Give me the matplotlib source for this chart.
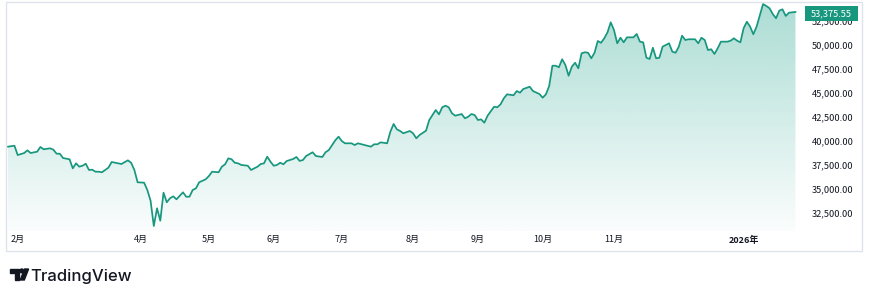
"""
Nikkei-style area chart, TradingView look: Jan 2025 - Jan 2026 daily closes.
"""

import numpy as np
import matplotlib
matplotlib.use("Agg")
import matplotlib.pyplot as plt
from matplotlib.colors import LinearSegmentedColormap
from matplotlib.patches import Polygon, Rectangle, Circle
from matplotlib.transforms import blended_transform_factory

plt.rcParams["font.family"] = ["Noto Sans CJK JP", "DejaVu Sans"]

# trading-day index (0 = first day shown) and closing values
day = [
    0, 2, 3, 5, 6, 7, 9, 10, 11, 13,
    14, 15, 16, 17, 19, 20, 21, 22, 23, 24,
    25, 26, 27, 28, 29, 31, 32, 34, 35, 37,
    38, 39, 40, 42, 43, 44, 45, 46, 47, 48,
    49, 50, 51, 52, 54, 55, 56, 57, 58, 59,
    61, 62, 63, 65, 66, 67, 68, 69, 70, 71,
    72, 74, 75, 77, 78, 79, 80, 81, 82, 83,
    84, 85, 86, 88, 89, 90, 91, 92, 94, 95,
    97, 98, 99, 101, 102, 103, 104, 106, 107, 108,
    110, 112, 113, 114, 115, 117, 118, 119, 120, 121,
    122, 124, 125, 126, 127, 129, 130, 132, 133, 134,
    135, 136, 137, 138, 140, 141, 142, 143, 144, 145,
    146, 147, 148, 150, 151, 152, 153, 154, 156, 157,
    158, 159, 161, 162, 164, 165, 166, 167, 168, 169,
    170, 171, 172, 173, 174, 175, 176, 177, 178, 179,
    180, 181, 182, 183, 184, 185, 186, 187, 188, 189,
    190, 191, 193, 194, 195, 196, 197, 198, 199, 200,
    201, 202, 204, 205, 206, 207, 208, 209, 210, 212,
    213, 214, 215, 216, 217, 218, 219, 220, 222, 223,
    224, 225, 226, 227, 228, 229, 230, 231, 233, 234,
    235, 236, 237, 238, 239, 240, 241, 243,
]
close = [
    39380, 39480, 38510, 38720, 39000, 38720, 38860, 39350, 39110, 39210,
    39070, 38650, 38650, 38200, 38070, 37130, 37650, 37300, 37400, 37610,
    36960, 36990, 36780, 36780, 36720, 37200, 37790, 37650, 37580, 37960,
    37710, 36960, 35680, 35640, 34880, 33770, 31140, 32980, 31690, 34600,
    33600, 34020, 34220, 33910, 34640, 34180, 34180, 34880, 35050, 35680,
    35990, 36330, 36780, 36720, 37300, 37550, 38170, 38070, 37710, 37650,
    37480, 37400, 36960, 37300, 37580, 37650, 38340, 37820, 37400, 37480,
    37710, 37550, 37890, 38100, 38310, 37900, 37990, 38410, 38800, 38410,
    38310, 38800, 39030, 40040, 40420, 39970, 39730, 39730, 39550, 39730,
    39550, 39380, 39630, 39630, 39830, 39730, 40940, 41740, 41180, 41010,
    40770, 41010, 40770, 40250, 40590, 41040, 42150, 43190, 42740, 43470,
    43640, 43470, 42850, 42600, 42770, 42330, 42490, 42770, 42670, 42150,
    42220, 41870, 42600, 43530, 43470, 43780, 44400, 44820, 44720, 45160,
    44990, 45370, 45610, 45160, 44850, 44470, 44820, 45680, 47790, 47790,
    47630, 48460, 47870, 46750, 47690, 48100, 47520, 49080, 49190, 49140,
    48560, 49140, 50360, 50170, 50640, 51260, 52300, 51500, 50120, 50700,
    50220, 50740, 50740, 51090, 50290, 50220, 48620, 48490, 49660, 48560,
    48620, 49770, 50120, 49250, 49140, 49770, 50910, 50460, 50540, 50540,
    50120, 50700, 50460, 49420, 49500, 49010, 49600, 50290, 50290, 50390,
    50640, 50390, 50220, 51680, 52360, 51850, 51060, 51850, 54200, 54000,
    53760, 53160, 52720, 53510, 53650, 52960, 53300, 53375.55,
]

tick_days = [3, 41, 62, 82, 103, 125, 145, 165, 187, 227]
tick_labels = ["2月", "4月", "5月", "6月", "7月", "8月", "9月", "10月", "11月", "2026年"]
price_ticks = [32500, 35000, 37500, 40000, 42500, 45000, 47500, 50000, 52500]
last_price = 53375.55

LINE = "#17977e"
TEXT = "#131722"
W, H = 870, 298


def px(x0, y0, x1, y1):
    return [x0 / W, 1 - y1 / H, (x1 - x0) / W, (y1 - y0) / H]


fig = plt.figure(figsize=(W / 100, H / 100), dpi=100)
fig.patch.set_facecolor("white")

# outer chart frame
fig.add_artist(Rectangle((6 / W, 1 - 251 / H), 856 / W, 249 / H,
                         transform=fig.transFigure, fill=False,
                         edgecolor="#e0e3eb", lw=1))

ax = fig.add_axes(px(7, 2, 800, 231))
ax.set_xlim(-0.3, 244.4)
ax.set_ylim(30620, 54410)
for sp in ax.spines.values():
    sp.set_visible(False)

# gradient area under the line
ylo, yhi = ax.get_ylim()
grad = np.linspace(0, 1, 256).reshape(-1, 1)
cmap = LinearSegmentedColormap.from_list(
    "area", [(8 / 255, 153 / 255, 129 / 255, 0.02), (8 / 255, 153 / 255, 129 / 255, 0.34)])
im = ax.imshow(grad, extent=[day[0], day[-1], ylo, yhi], origin="lower",
               aspect="auto", cmap=cmap, zorder=1, interpolation="bilinear")
verts = [(day[0], ylo)] + list(zip(day, close)) + [(day[-1], ylo)]
clip = Polygon(verts, closed=True, facecolor="none", edgecolor="none")
ax.add_patch(clip)
im.set_clip_path(clip)
ax.set_xlim(-0.3, 244.4)
ax.set_ylim(ylo, yhi)

ax.plot(day, close, color=LINE, lw=1.25, zorder=3, solid_joinstyle="round")

# axes ticks
ax.set_xticks(tick_days, tick_labels)
ax.tick_params(axis="x", length=0, pad=3.2, labelsize=6.5, labelcolor=TEXT)
ax.get_xticklabels()[-1].set_fontweight("bold")

ax.yaxis.tick_right()
ax.set_yticks(price_ticks, [f"{v:,.2f}" for v in price_ticks])
ax.tick_params(axis="y", length=0, pad=8.6, labelsize=6.7, labelcolor=TEXT)

# last price tag (covers the top half of the 52,500 label, as in TradingView)
blend = blended_transform_factory(ax.transAxes, ax.transData)
ax.add_patch(Rectangle((1.0065, last_price - 960), 0.067, 1560, transform=blend,
                       facecolor=LINE, edgecolor="none", clip_on=False, zorder=10))
ax.text(1.040, last_price - 160, f"{last_price:,.2f}", transform=blend, ha="center",
        va="center", color="white", fontsize=6.7, clip_on=False, zorder=11)

# TradingView logo
lax = fig.add_axes(px(8, 262, 140, 286))
lax.set_xlim(8, 140)
lax.set_ylim(286, 262)
lax.axis("off")
lax.add_patch(Polygon([(10, 269), (19.3, 269), (19.3, 280), (15.3, 280),
                       (15.3, 272.6), (10, 272.6)], closed=True, color=TEXT))
lax.add_patch(Circle((21.8, 270.9), 1.9, color=TEXT))
lax.add_patch(Polygon([(20.2, 280), (24.6, 269), (28.6, 269), (24.3, 280)],
                      closed=True, color=TEXT))
lax.text(30.5, 280.6, "TradingView", fontsize=12, color=TEXT,
         family=["Inter", "DejaVu Sans"], fontweight="medium", va="baseline")

fig.savefig("out.png", dpi=100, facecolor="white")
